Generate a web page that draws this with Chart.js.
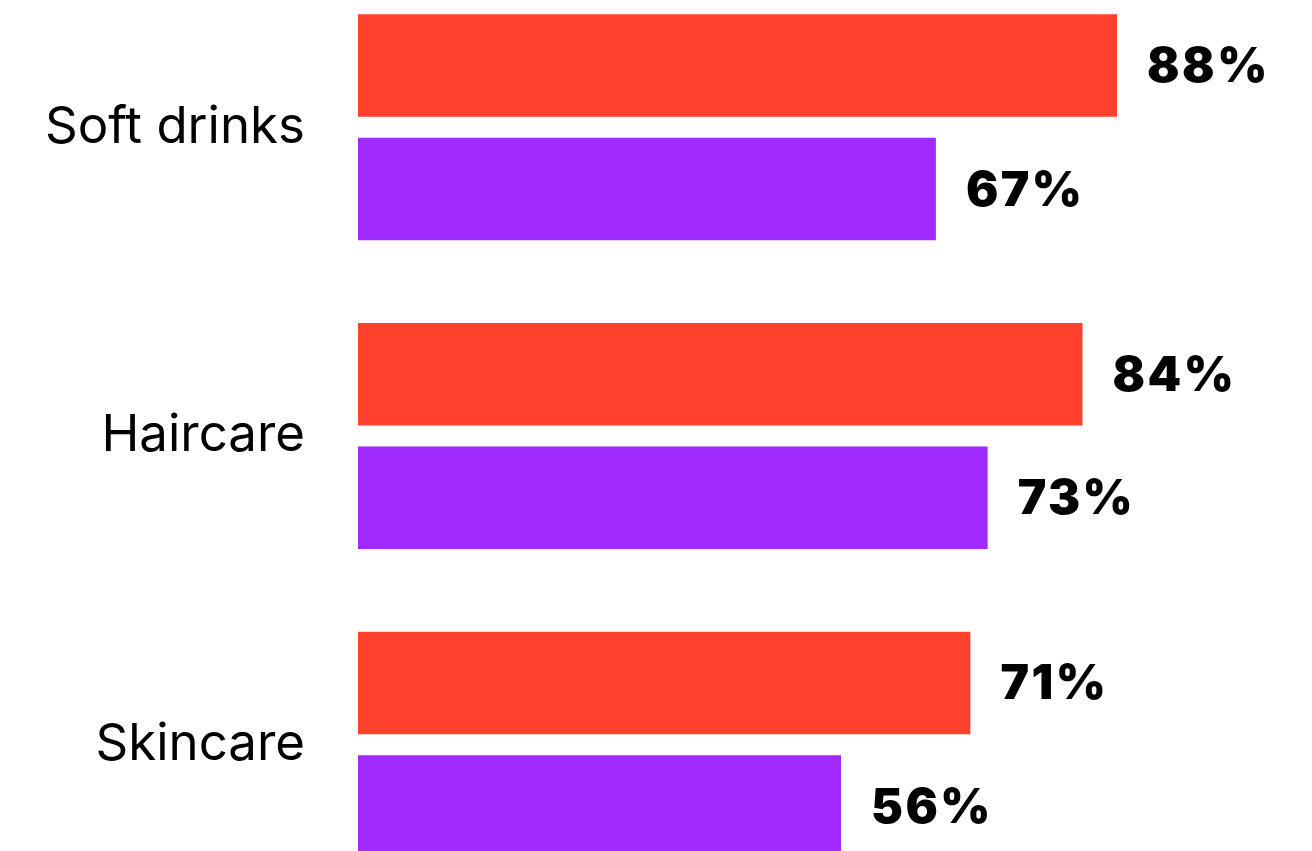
<!DOCTYPE html>
<html>
<head>
<meta charset="utf-8">
<script src="https://cdn.jsdelivr.net/npm/chart.js@4/dist/chart.umd.min.js"></script>
<style>
html,body{margin:0;padding:0;background:#fff;overflow:hidden;width:1312px;height:851px;}
#c{position:absolute;left:0;top:-27px;}
</style>
</head>
<body>
<canvas id="c" width="1312" height="926"></canvas>
<script>
const categories = ["Soft drinks", "Haircare", "Skincare"];
const seriesA = [88, 84, 71];
const seriesB = [67, 73, 56];
const seriesColors = ["#FF412D", "#A12AFF"];

const valueLabels = {
  id: 'valueLabels',
  afterDatasetsDraw(chart) {
    const ctx = chart.ctx;
    ctx.save();
    ctx.font = '900 48px Inter';
    try { ctx.letterSpacing = '2.5px'; } catch (e) {}
    ctx.fillStyle = '#000';
    ctx.textAlign = 'left';
    ctx.textBaseline = 'middle';
    chart.data.datasets.forEach((ds, i) => {
      chart.getDatasetMeta(i).data.forEach((bar, j) => {
        ctx.fillText(ds.data[j] + '%', bar.x + 30, bar.y + 2);
      });
    });
    ctx.restore();
  }
};

new Chart(document.getElementById('c'), {
  type: 'bar',
  data: {
    labels: categories,
    datasets: [
      { data: seriesA, backgroundColor: seriesColors[0] },
      { data: seriesB, backgroundColor: seriesColors[1] }
    ]
  },
  options: {
    indexAxis: 'y',
    responsive: false,
    animation: false,
    layout: { padding: { left: 0, right: 91.5, top: 0, bottom: 0 } },
    datasets: { bar: { categoryPercentage: 0.8, barPercentage: 0.83 } },
    plugins: { legend: { display: false }, tooltip: { enabled: false } },
    scales: {
      x: { display: false, min: 0, max: 100 },
      y: {
        border: { display: false },
        grid: { display: false, drawTicks: false },
        ticks: { color: '#000', padding: 53, font: { family: 'Inter', size: 51, weight: '400' } },
        afterFit(scale) { scale.width = 358; scale.paddingTop = 0; scale.paddingBottom = 0; }
      }
    }
  },
  plugins: [valueLabels]
});
</script>
</body>
</html>
